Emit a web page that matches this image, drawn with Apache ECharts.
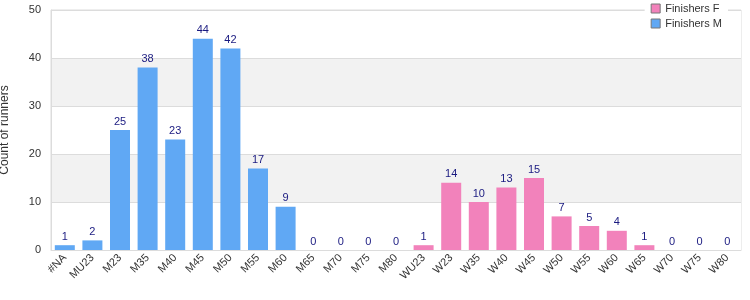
<!DOCTYPE html>
<html>
<head>
<meta charset="utf-8">
<script src="https://cdn.jsdelivr.net/npm/echarts@6/dist/echarts.min.js"></script>
<style>
  html, body { margin: 0; padding: 0; background: #fff; }
  #main { width: 750px; height: 300px; }
</style>
</head>
<body>
<div id="main"></div>
<script>
// categories on the x axis
var categories = ['#NA', 'MU23', 'M23', 'M35', 'M40', 'M45', 'M50', 'M55', 'M60', 'M65', 'M70', 'M75', 'M80',
  'WU23', 'W23', 'W35', 'W40', 'W45', 'W50', 'W55', 'W60', 'W65', 'W70', 'W75', 'W80'];
// finishers per category (null = not in that group)
var finishersM = [1, 2, 25, 38, 23, 44, 42, 17, 9, 0, 0, 0, 0,
  null, null, null, null, null, null, null, null, null, null, null, null];
var finishersF = [null, null, null, null, null, null, null, null, null, null, null, null, null,
  1, 14, 10, 13, 15, 7, 5, 4, 1, 0, 0, 0];
var yTicks = [0, 10, 20, 30, 40, 50];

var FONT = 'Liberation Sans';
var myChart = echarts.init(document.getElementById('main'));

var labelStyle = {
  show: true,
  position: 'top',
  color: '#1a1a80',
  fontFamily: FONT,
  fontSize: 11,
  distance: 3
};

option = {
  animation: false,
  grid: {
    left: 51, right: 9, top: 10, bottom: 50,
    outerBoundsMode: 'none',
    containLabel: false,
    show: true, borderColor: '#dcdcdc', borderWidth: 1
  },
  legend: {
    data: ['Finishers F', 'Finishers M'],
    orient: 'vertical',
    right: 22,
    top: 1,
    itemWidth: 9,
    itemHeight: 9,
    itemGap: 4,
    icon: 'rect',
    backgroundColor: '#fff',
    padding: [2, 6, 2, 6],
    itemStyle: { borderColor: '#777', borderWidth: 1 },
    textStyle: { fontSize: 11, color: '#333', fontFamily: FONT }
  },
  xAxis: {
    type: 'category',
    data: categories,
    axisLine: { lineStyle: { color: '#dcdcdc' } },
    axisTick: { show: false },
    axisLabel: { rotate: 45, interval: 0, fontSize: 11, color: '#333', fontFamily: FONT, margin: 6 }
  },
  yAxis: {
    type: 'value',
    min: yTicks[0],
    max: yTicks[yTicks.length - 1],
    interval: 10,
    name: 'Count of runners',
    nameLocation: 'middle',
    nameGap: 40,
    nameTextStyle: { fontSize: 12, color: '#333', fontFamily: FONT },
    axisLine: { show: true, lineStyle: { color: '#dcdcdc' } },
    axisTick: { show: false },
    axisLabel: { fontSize: 11, color: '#333', fontFamily: FONT, margin: 10 },
    splitLine: { lineStyle: { color: '#dcdcdc' } },
    splitArea: { show: true, areaStyle: { color: ['#ffffff', '#f2f2f2'] } }
  },
  series: [
    {
      name: 'Finishers F',
      type: 'bar',
      stack: 'runners',
      barWidth: 20,
      data: finishersF,
      itemStyle: { color: '#f282bb', borderWidth: 0, borderRadius: 0 },
      label: labelStyle
    },
    {
      name: 'Finishers M',
      type: 'bar',
      stack: 'runners',
      barWidth: 20,
      data: finishersM,
      itemStyle: { color: '#60a8f4', borderWidth: 0, borderRadius: 0 },
      label: labelStyle
    }
  ]
};

myChart.setOption(option);
</script>
</body>
</html>
